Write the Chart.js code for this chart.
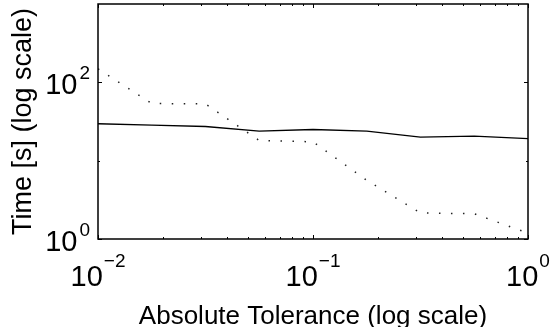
<!DOCTYPE html>
<html>
<head>
<meta charset="utf-8">
<script src="https://cdn.jsdelivr.net/npm/chart.js@4"></script>
<style>
  body { margin: 0; background: #fff; }
  #wrap { width: 551px; height: 327px; position: relative; }
</style>
</head>
<body>
<div id="wrap"><canvas id="timeChart"></canvas></div>
<script>
// datos
const tolerancias = [0.01, 0.0178, 0.0316, 0.0562, 0.1, 0.178, 0.316, 0.562, 1];
const tiempoSolido = [29.6, 28.4, 27.3, 23.8, 25.0, 23.8, 20.0, 20.6, 19.1];
const tiempoPunteado = [149, 53.6, 53, 18.1, 17.4, 5.6, 2.15, 2.1, 1.19];

const xMayores = [0.01, 0.1, 1];
const xExponentes = ['\u22122', '\u22121', '0'];
const xMenores = [0.02, 0.03, 0.04, 0.05, 0.06, 0.07, 0.08, 0.09, 0.2, 0.3, 0.4, 0.5, 0.6, 0.7, 0.8, 0.9];
const yMayores = [1, 100];
const yExponentes = ['0', '2'];
const yMenores = [10];

const fuente = '"Liberation Sans", Arial, Helvetica, sans-serif';

// marco, marcas hacia dentro y etiquetas 10^n estilo MATLAB
const ejesMatlab = {
    id: 'ejesMatlab',
    afterDraw(chart) {
        const {ctx, chartArea: a, scales: {x, y}} = chart;
        ctx.save();
        ctx.strokeStyle = '#000';
        ctx.lineWidth = 1.5;
        ctx.strokeRect(a.left, a.top, a.right - a.left, a.bottom - a.top);

        ctx.lineWidth = 1;
        const marcaX = (v, len) => {
            const px = Math.round(x.getPixelForValue(v)) + 0.5;
            ctx.beginPath();
            ctx.moveTo(px, a.bottom); ctx.lineTo(px, a.bottom - len);
            ctx.moveTo(px, a.top); ctx.lineTo(px, a.top + len);
            ctx.stroke();
        };
        const marcaY = (v, len) => {
            const py = Math.round(y.getPixelForValue(v)) + 0.5;
            ctx.beginPath();
            ctx.moveTo(a.left, py); ctx.lineTo(a.left + len, py);
            ctx.moveTo(a.right, py); ctx.lineTo(a.right - len, py);
            ctx.stroke();
        };
        xMenores.forEach(v => marcaX(v, 2));
        xMayores.forEach(v => marcaX(v, 4));
        yMenores.forEach(v => marcaY(v, 2));
        yMayores.forEach(v => marcaY(v, 4));

        ctx.fillStyle = '#000';
        ctx.textBaseline = 'alphabetic';
        ctx.textAlign = 'left';
        const base = '29px ' + fuente;
        const expo = '19px ' + fuente;

        xMayores.forEach((v, i) => {
            const px = x.getPixelForValue(v);
            ctx.font = base;
            const wb = ctx.measureText('10').width;
            ctx.font = expo;
            const we = ctx.measureText(xExponentes[i]).width;
            const inicio = px - (wb + 1 + we) / 2;
            ctx.font = base;
            ctx.fillText('10', inicio, a.bottom + 47);
            ctx.font = expo;
            ctx.fillText(xExponentes[i], inicio + wb + 1, a.bottom + 28);
        });

        yMayores.forEach((v, i) => {
            const py = y.getPixelForValue(v);
            ctx.font = expo;
            const we = ctx.measureText(yExponentes[i]).width;
            const derecha = a.left - 8;
            ctx.fillText(yExponentes[i], derecha - we, py - 3);
            ctx.font = base;
            const wb = ctx.measureText('10').width;
            ctx.fillText('10', derecha - we - 2 - wb, py + 11.5);
        });
        ctx.restore();
    }
};

const ctxTiempo = document.getElementById('timeChart').getContext('2d');
const timeChart = new Chart(ctxTiempo, {
    type: 'line',
    data: {
        labels: tolerancias,
        datasets: [{
            data: tolerancias.map((t, i) => ({x: t, y: tiempoSolido[i]})),
            borderColor: '#000',
            borderWidth: 1.3,
            pointRadius: 0,
            tension: 0
        }, {
            data: tolerancias.map((t, i) => ({x: t, y: tiempoPunteado[i]})),
            borderColor: '#222',
            borderWidth: 1.5,
            borderDash: [1.5, 10.5],
            borderCapStyle: 'butt',
            pointRadius: 0,
            tension: 0
        }]
    },
    options: {
        responsive: true,
        maintainAspectRatio: false,
        animation: false,
        layout: { padding: { top: 4, right: 23, bottom: 0, left: 0 } },
        plugins: {
            legend: { display: false },
            tooltip: { enabled: false }
        },
        scales: {
            x: {
                type: 'logarithmic',
                min: 0.01,
                max: 1,
                grid: { display: false },
                border: { display: false },
                ticks: { display: false },
                title: {
                    display: true,
                    text: 'Absolute Tolerance (log scale)',
                    color: '#000',
                    font: { family: fuente, size: 26, lineHeight: 0.8 },
                    padding: { top: 0, bottom: 0 }
                },
                afterFit: s => { s.height = 88; }
            },
            y: {
                type: 'logarithmic',
                min: 1,
                max: 1000,
                grid: { display: false },
                border: { display: false },
                ticks: { display: false },
                title: {
                    display: true,
                    text: 'Time [s] (log scale)',
                    color: '#000',
                    font: { family: fuente, size: 27, lineHeight: 1.2 },
                    padding: { top: 7, bottom: 0 }
                },
                afterFit: s => { s.width = 98; }
            }
        }
    },
    plugins: [ejesMatlab]
});
</script>
</body>
</html>
